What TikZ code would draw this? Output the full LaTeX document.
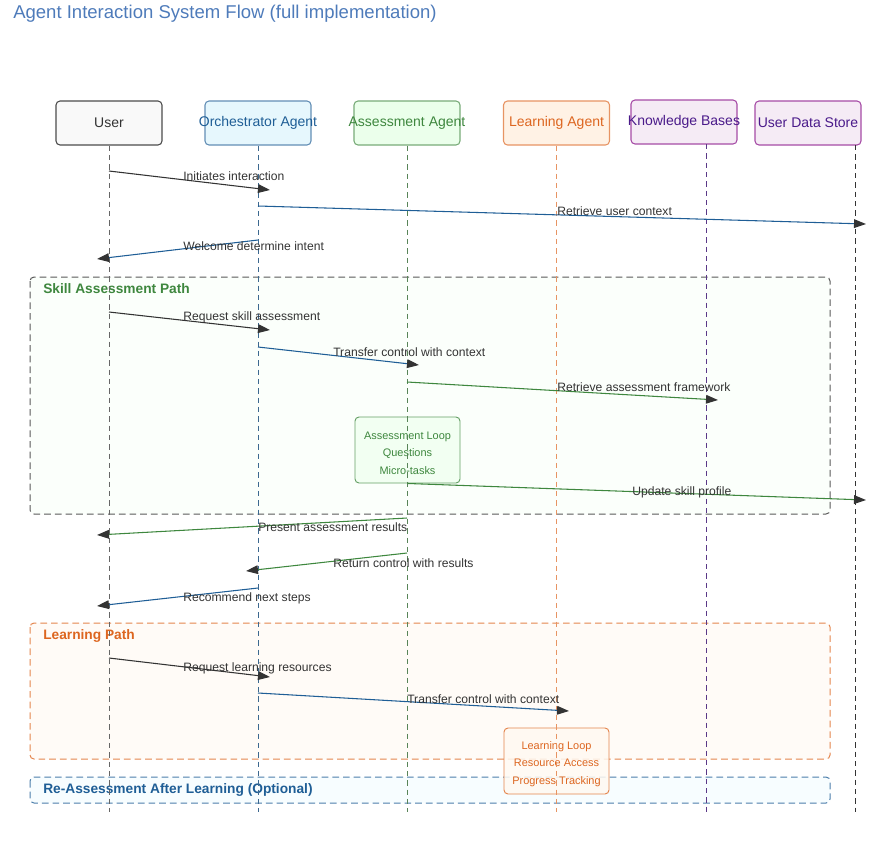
\documentclass[tikz,border=0pt]{standalone}
\usepackage{fontspec}
\setmainfont{Liberation Sans}
\usetikzlibrary{arrows.meta}
\definecolor{inkdark}{HTML}{333333}
\definecolor{orchblue}{HTML}{1F5E96}
\definecolor{assgreen}{HTML}{3E873E}
\definecolor{learnorange}{HTML}{DD6620}
\definecolor{kbpurple}{HTML}{4A1A8A}
\definecolor{titleblue}{HTML}{4E7BBA}
\begin{document}
\begin{tikzpicture}[x=0.75pt, y=-0.75pt,
  actor/.style={draw, rounded corners=3pt, minimum width=79.5pt, minimum height=33pt, inner sep=0pt, line width=0.8pt},
  lifeline/.style={dash pattern=on 4pt off 3pt, line width=0.7pt},
  region/.style={rounded corners=3pt, dash pattern=on 5pt off 3pt, line width=0.75pt},
  regiontitle/.style={anchor=west, font=\fontsize{10.3}{12}\selectfont\bfseries, inner sep=0pt},
  loopbox/.style={draw, rounded corners=3pt, minimum width=78.75pt, minimum height=49.5pt, inner sep=0pt, line width=0.7pt},
  looptext/.style={align=center, inner sep=0pt, font=\fontsize{8.2}{13}\selectfont},
  msg/.style={line width=0.8pt, -{Triangle[length=9pt, width=6.5pt, color=inkdark]}},
  msglabel/.style={anchor=west, inner sep=0pt, font=\fontsize{9.1}{10}\selectfont, text=inkdark}]
\useasboundingbox (0,0) rectangle (870,840);
% Title
\node[anchor=west, inner sep=0pt, font=\fontsize{13.9}{15}\selectfont, text=titleblue] (title) at (13,14) {Agent Interaction System Flow (full implementation)};
% Region frames
\draw[region, draw=black!65, fill=green!1.5] (30,277) rectangle (830,514);
\node[regiontitle, text=assgreen] (skilltitle) at (43,289) {Skill Assessment Path};
\draw[region, draw=learnorange!80, fill=orange!3] (30,623) rectangle (830,759);
\node[regiontitle, text=learnorange] (learntitle) at (43,636) {Learning Path};
\draw[region, draw=orchblue!80, fill=cyan!3] (30,777) rectangle (830,803);
\node[regiontitle, text=orchblue] (reasstitle) at (43,790) {Re-Assessment After Learning (Optional)};
% Participants
\node[actor, draw=black!70, fill=gray!5] (user) at (109,123) {};
\node[font=\fontsize{10.5}{12}\selectfont, text=inkdark] (usertxt) at (user) {User};
\node[actor, draw=orchblue!70, fill=cyan!10] (orch) at (258,123) {};
\node[font=\fontsize{10.5}{12}\selectfont, text=orchblue] (orchtxt) at (orch) {Orchestrator Agent};
\node[actor, draw=assgreen!70, fill=green!8] (assess) at (407,123) {};
\node[font=\fontsize{10.5}{12}\selectfont, text=assgreen] (assesstxt) at (assess) {Assessment Agent};
\node[actor, draw=learnorange!70, fill=orange!10] (learn) at (556.5,123) {};
\node[font=\fontsize{10.5}{12}\selectfont, text=learnorange] (learntxt) at (learn) {Learning Agent};
\node[actor, draw=violet!70, fill=violet!8] (kb) at (684,122) {};
\node[font=\fontsize{10.5}{12}\selectfont, text=kbpurple] (kbtxt) at (kb) {Knowledge Bases};
\node[actor, draw=violet!70, fill=violet!8] (store) at (808,123) {};
\node[font=\fontsize{10.5}{12}\selectfont, text=kbpurple] (storetxt) at (store) {User Data Store};
% Loop boxes
\node[loopbox, draw=assgreen!80, fill=green!5, fill opacity=0.9] (assloop) at (407.5,450) {};
\node[looptext, text=assgreen] (asslooptxt) at (407.5,453) {Assessment Loop\\Questions\\Micro-tasks};
\node[loopbox, draw=learnorange!80, fill=orange!5, fill opacity=0.85] (learnloop) at (556.5,761) {};
\node[looptext, text=learnorange] (learnlooptxt) at (556.5,764) {Learning Loop\\Resource Access\\Progress Tracking};
% Lifelines
\coordinate (userend) at (109,812);
\coordinate (orchend) at (258,812);
\coordinate (assessend) at (407,812);
\coordinate (learnend) at (556.5,812);
\coordinate (kbtop) at (706,144);
\coordinate (kbend) at (706,812);
\coordinate (storetop) at (855,145);
\coordinate (storeend) at (855,812);
\draw[lifeline, black!60] (user.south) -- (userend);
\draw[lifeline, orchblue!70!gray] (orch.south) -- (orchend);
\draw[lifeline, assgreen!60!gray] (assess.south) -- (assessend);
\draw[lifeline, learnorange!70] (learn.south) -- (learnend);
\draw[lifeline, kbpurple!70!gray] (kbtop) -- (kbend);
\draw[lifeline, black!80] (storetop) -- (storeend);
% Messages
\coordinate (m1a) at (109,171); \coordinate (m1b) at (270,190);
\draw[msg, inkdark] (m1a) -- (m1b);
\node[msglabel] (initiates) at (183,176) {Initiates interaction};
\coordinate (m2a) at (258,206); \coordinate (m2b) at (866,224);
\draw[msg, orchblue] (m2a) -- (m2b);
\node[msglabel] (retrieveuser) at (557,211) {Retrieve user context};
\coordinate (m3a) at (258,240); \coordinate (m3b) at (97,259);
\draw[msg, orchblue] (m3a) -- (m3b);
\node[msglabel] (welcome) at (183,246) {Welcome determine intent};
\coordinate (m4a) at (109,312); \coordinate (m4b) at (270,330);
\draw[msg, inkdark] (m4a) -- (m4b);
\node[msglabel] (reqskill) at (183,317) {Request skill assessment};
\coordinate (m5a) at (258,347); \coordinate (m5b) at (419,365);
\draw[msg, orchblue] (m5a) -- (m5b);
\node[msglabel] (transfer1) at (333,352) {Transfer control with context};
\coordinate (m6a) at (407,382); \coordinate (m6b) at (718,400);
\draw[msg, assgreen] (m6a) -- (m6b);
\node[msglabel] (framework) at (557,387) {Retrieve assessment framework};
\coordinate (m7b) at (866,500);
\draw[msg, assgreen] (assloop.south) -- (m7b);
\node[msglabel] (update) at (632,492) {Update skill profile};
\coordinate (m8a) at (407,518); \coordinate (m8b) at (97,535);
\draw[msg, assgreen] (m8a) -- (m8b);
\node[msglabel] (present) at (258,527) {Present assessment results};
\coordinate (m9a) at (407,553); \coordinate (m9b) at (246,571);
\draw[msg, assgreen] (m9a) -- (m9b);
\node[msglabel] (returnctl) at (333,563) {Return control with results};
\coordinate (m10a) at (258,588); \coordinate (m10b) at (97,606);
\draw[msg, orchblue] (m10a) -- (m10b);
\node[msglabel] (recommend) at (183,598) {Recommend next steps};
\coordinate (m11a) at (109,658); \coordinate (m11b) at (270,677);
\draw[msg, inkdark] (m11a) -- (m11b);
\node[msglabel] (reqlearn) at (183,668) {Request learning resources};
\coordinate (m12a) at (258,693); \coordinate (m12b) at (569,711);
\draw[msg, orchblue] (m12a) -- (m12b);
\node[msglabel] (transfer2) at (407,699) {Transfer control with context};
\end{tikzpicture}
\end{document}
